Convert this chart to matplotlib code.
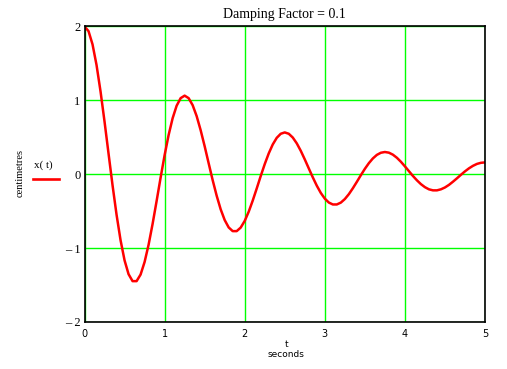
import numpy as np
import matplotlib.pyplot as plt

# time samples (s) and displacement (cm)
t = np.arange(101) * 0.05
x = [2.000, 1.937, 1.758, 1.479, 1.121, 0.712, 0.279, -0.150, -0.548, -0.893,
     -1.166, -1.353, -1.447, -1.447, -1.358, -1.188, -0.954, -0.672, -0.363, -0.046,
     0.258, 0.531, 0.758, 0.927, 1.030, 1.064, 1.030, 0.935, 0.787, 0.596,
     0.379, 0.148, -0.080, -0.291, -0.475, -0.620, -0.720, -0.770, -0.770, -0.722,
     -0.632, -0.507, -0.357, -0.193, -0.024, 0.137, 0.282, 0.403, 0.493, 0.548,
     0.566, 0.548, 0.497, 0.418, 0.317, 0.201, 0.079, -0.042, -0.155, -0.253,
     -0.330, -0.383, -0.409, -0.409, -0.384, -0.336, -0.270, -0.190, -0.103, -0.013,
     0.073, 0.150, 0.214, 0.262, 0.291, 0.301, 0.292, 0.265, 0.223, 0.169,
     0.107, 0.042, -0.023, -0.082, -0.134, -0.175, -0.204, -0.218, -0.218, -0.204,
     -0.179, -0.144, -0.101, -0.055, -0.007, 0.039, 0.080, 0.114, 0.140, 0.155,
     0.160]

xticks = [0, 1, 2, 3, 4, 5]
yticks = [-2, -1, 0, 1, 2]
ylabels = ['\u2013 2', '\u2013 1', '0', '1', '2']

fig = plt.figure(figsize=(5.07, 3.69), dpi=100)
ax = fig.add_axes([0.1667, 0.1274, 0.7899, 0.8008])

ax.plot(t, x, color='red', lw=1.8, zorder=3)
ax.set_xlim(0, 5)
ax.set_ylim(-2, 2)

ax.set_xticks(xticks)
ax.set_xticklabels([str(v) for v in xticks], family='DejaVu Sans', fontsize=7)
ax.set_yticks(yticks)
ax.set_yticklabels(ylabels, family='Liberation Serif', fontsize=9)
ax.tick_params(axis='y', length=0, pad=3)
ax.tick_params(axis='x', length=0, pad=5)
ax.grid(True, color='#00ff00', lw=1)
for s in ax.spines.values():
    s.set_linewidth(1.2)
    s.set_zorder(4)

ax.set_title('Damping Factor = 0.1', family='Liberation Serif', fontsize=10, pad=6)

fig.text(0.5645, 0.06, 't', family='DejaVu Sans', fontsize=6.5, ha='center')
fig.text(0.5645, 0.032, 'seconds', family='DejaVu Sans', fontsize=6.5, ha='center')
fig.text(0.04, 0.53, 'centimetres', family='Liberation Serif', fontsize=7.5,
         rotation=90, ha='center', va='center')
fig.text(0.085, 0.545, 'x( t)', family='Liberation Serif', fontsize=8, ha='center')
fig.add_artist(plt.Line2D([0.065, 0.117], [0.515, 0.515], color='red', lw=1.9))

fig.savefig('out.png')
